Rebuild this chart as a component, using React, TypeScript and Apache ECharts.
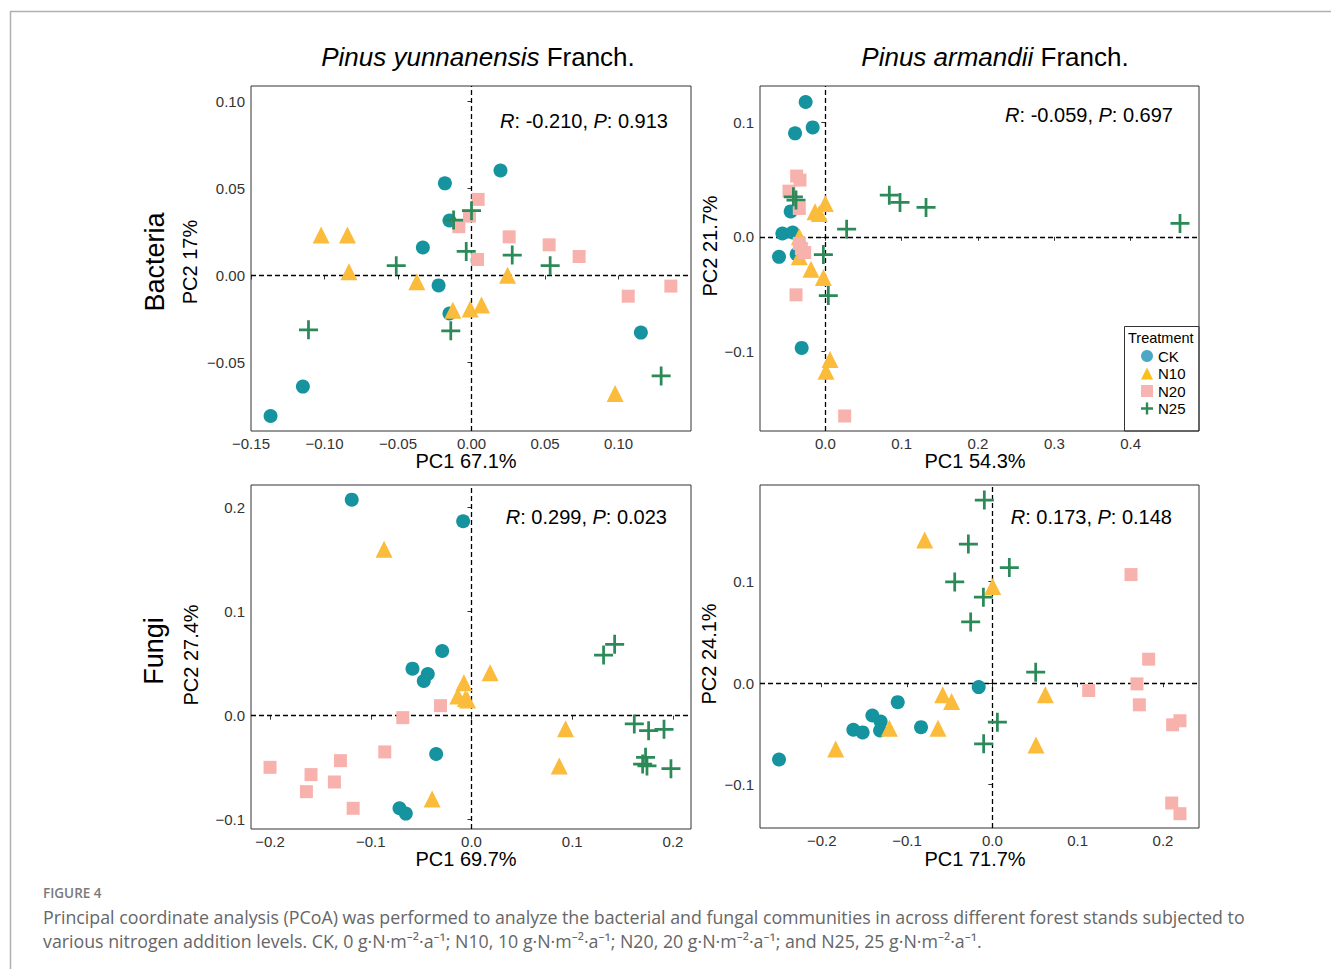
import React, { useEffect, useRef } from "react";
import * as echarts from "echarts";

// ---------- DATA ----------
const GROUPS = ["CK", "N10", "N20", "N25"];

// Bacteria – Pinus yunnanensis
const PY_BAC_CK = [[-0.0181, 0.0529], [0.0197, 0.0603], [-0.015, 0.0316], [-0.0331, 0.0161], [-0.0224, -0.0057], [-0.015, -0.0218], [0.1152, -0.0328], [-0.1147, -0.0638], [-0.1367, -0.0807]];
const PY_BAC_N10 = [[-0.1023, 0.0232], [-0.0844, 0.0232], [-0.0834, 0.0021], [-0.0372, -0.0036], [-0.0127, -0.0199], [-0.0009, -0.0193], [0.0068, -0.017], [0.0245, 0.0002], [0.0977, -0.0678]];
const PY_BAC_N20 = [[0.0045, 0.0437], [-0.0014, 0.0341], [-0.0086, 0.028], [0.0256, 0.0222], [0.0528, 0.0176], [0.0041, 0.0092], [0.0732, 0.0109], [0.1066, -0.0119], [0.1356, -0.0061]];
const PY_BAC_N25 = [[-0.0122, 0.0318], [0.0, 0.0372], [-0.0036, 0.0138], [0.0277, 0.0117], [-0.0512, 0.0056], [0.0535, 0.0056], [-0.1109, -0.0312], [-0.0141, -0.0318], [0.129, -0.0577]];

// Bacteria – Pinus armandii
const PA_BAC_CK = [[-0.0258, 0.1178], [-0.0166, 0.0956], [-0.0397, 0.0904], [-0.0454, 0.0222], [-0.0563, 0.0029], [-0.0428, 0.0038], [-0.0607, -0.0175], [-0.0376, -0.0152], [-0.031, -0.0971]];
const PA_BAC_N10 = [[0.0, 0.0292], [-0.0135, 0.0219], [-0.0079, 0.0204], [-0.0341, 0.0], [-0.0341, -0.0175], [-0.0188, -0.0283], [-0.0026, -0.0356], [0.0061, -0.1073], [0.0009, -0.1175]];
const PA_BAC_N20 = [[-0.0376, 0.0531], [-0.0332, 0.0496], [-0.0476, 0.0399], [-0.0341, 0.0248], [-0.0341, -0.0058], [-0.0314, -0.0102], [-0.0271, -0.0137], [-0.0384, -0.0507], [0.0253, -0.1566]];
const PA_BAC_N25 = [[-0.0419, 0.035], [-0.0384, 0.0321], [0.0838, 0.0364], [0.0978, 0.03], [0.1319, 0.0257], [0.0279, 0.0067], [-0.0026, -0.0155], [0.0039, -0.0513], [0.4646, 0.0117]];

// Fungi – Pinus yunnanensis
const PY_FUN_CK = [[-0.1189, 0.2077], [-0.0083, 0.1869], [-0.0291, 0.0622], [-0.0586, 0.0452], [-0.0434, 0.0401], [-0.0474, 0.0333], [-0.0351, -0.0369], [-0.0715, -0.0891], [-0.0652, -0.0942]];
const PY_FUN_N10 = [[-0.0868, 0.1599], [0.0185, 0.0413], [-0.0076, 0.0317], [-0.0136, 0.0189], [-0.004, 0.0151], [-0.006, 0.0165], [0.0934, -0.0125], [0.0871, -0.0484], [-0.0391, -0.0801]];
const PY_FUN_N20 = [[-0.0308, 0.0096], [-0.0682, -0.0019], [-0.0861, -0.0349], [-0.1301, -0.0433], [-0.2, -0.0497], [-0.1593, -0.0567], [-0.1361, -0.0638], [-0.1639, -0.0731], [-0.1175, -0.0891]];
const PY_FUN_N25 = [[0.1421, 0.0686], [0.1311, 0.0583], [0.1616, -0.008], [0.1758, -0.0144], [0.1911, -0.0131], [0.1728, -0.0401], [0.1699, -0.0465], [0.1742, -0.0484], [0.198, -0.051]];

// Fungi – Pinus armandii
const PA_FUN_CK = [[-0.25, -0.0751], [-0.1629, -0.0459], [-0.152, -0.0485], [-0.1406, -0.0318], [-0.1309, -0.0377], [-0.1316, -0.0466], [-0.1109, -0.0187], [-0.0836, -0.0433], [-0.016, -0.0039]];
const PA_FUN_N10 = [[-0.0793, 0.141], [0.0004, 0.0951], [-0.0582, -0.0115], [-0.0477, -0.018], [0.0621, -0.0115], [-0.1207, -0.0443], [-0.0637, -0.0443], [-0.1836, -0.0649], [0.0512, -0.061]];
const PA_FUN_N20 = [[0.1625, 0.1069], [0.1832, 0.0236], [0.1695, -0.0007], [0.1129, -0.0072], [0.1723, -0.0213], [0.2113, -0.041], [0.2199, -0.037], [0.2102, -0.118], [0.2199, -0.1285]];
const PA_FUN_N25 = [[-0.0094, 0.1803], [-0.0281, 0.137], [0.0199, 0.1138], [-0.0441, 0.0997], [-0.0105, 0.0846], [-0.0254, 0.0603], [0.0508, 0.0108], [0.0059, -0.0384], [-0.0102, -0.0597]];

// Tick values
const P1_XTICKS = [-0.15, -0.1, -0.05, 0, 0.05, 0.1];
const P1_YTICKS = [-0.05, 0, 0.05, 0.1];
const P2_XTICKS = [0, 0.1, 0.2, 0.3, 0.4];
const P2_YTICKS = [-0.1, 0, 0.1];
const P3_XTICKS = [-0.2, -0.1, 0, 0.1, 0.2];
const P3_YTICKS = [-0.1, 0, 0.1, 0.2];
const P4_XTICKS = [-0.2, -0.1, 0, 0.1, 0.2];
const P4_YTICKS = [-0.1, 0, 0.1];

// Statistics texts
const STATS = [
  ["-0.210", "0.913"],
  ["-0.059", "0.697"],
  ["0.299", "0.023"],
  ["0.173", "0.148"],
];
const X_NAMES = ["PC1 67.1%", "PC1 54.3%", "PC1 69.7%", "PC1 71.7%"];
const Y_NAMES = ["PC2 17%", "PC2 21.7%", "PC2 27.4%", "PC2 24.1%"];

// ---------- STYLE ----------
const FONT = "'Liberation Sans', Arial, Helvetica, sans-serif";
const CAP_FONT = "'Open Sans', 'Noto Sans', sans-serif";
const COLORS = ["#15939e", "#fbbb3b", "#f8b2ad", "#2b8a57"];
const LEGEND_COLORS = ["#4aa8c6", "#fdbe1c", "#f7b5b2", "#2b8a57"];
const CROSS = "path://M-1.3,-9H1.3V-1.3H9V1.3H1.3V9H-1.3V1.3H-9V-1.3H-1.3Z";
const LEGEND_CROSS = "path://M-1.8,-9H1.8V-1.8H9V1.8H1.8V9H-1.8V1.8H-9V-1.8H-1.8Z";
const SYMBOLS = ["circle", "triangle", "rect", CROSS];
const LEGEND_SYMBOLS = ["circle", "triangle", "rect", LEGEND_CROSS];
const SIZES = [14, 17, 13, 19];

const PANELS = [
  { grid: { left: 251, top: 86, width: 440, height: 345 }, x: [-0.15, 0.1493], y: [-0.0893, 0.1088], xt: P1_XTICKS, yt: P1_YTICKS, d: 2, data: [PY_BAC_CK, PY_BAC_N10, PY_BAC_N20, PY_BAC_N25], stat: [668, 121], xn: [466, 461], yn: [190, 262] },
  { grid: { left: 760, top: 86, width: 439, height: 345 }, x: [-0.0856, 0.4895], y: [-0.1697, 0.1318], xt: P2_XTICKS, yt: P2_YTICKS, d: 1, data: [PA_BAC_CK, PA_BAC_N10, PA_BAC_N20, PA_BAC_N25], stat: [1173, 115], xn: [975, 461], yn: [710, 246] },
  { grid: { left: 251, top: 485, width: 440, height: 344 }, x: [-0.2189, 0.2179], y: [-0.109, 0.2218], xt: P3_XTICKS, yt: P3_YTICKS, d: 1, data: [PY_FUN_CK, PY_FUN_N10, PY_FUN_N20, PY_FUN_N25], stat: [667, 517], xn: [466, 859], yn: [191, 655] },
  { grid: { left: 760, top: 485, width: 439, height: 343 }, x: [-0.2723, 0.2422], y: [-0.1426, 0.1951], xt: P4_XTICKS, yt: P4_YTICKS, d: 1, data: [PA_FUN_CK, PA_FUN_N10, PA_FUN_N20, PA_FUN_N25], stat: [1172, 517], xn: [975, 859], yn: [709, 654] },
];

const fmt = (d: number) => (v: number) => {
  const s = Math.abs(v).toFixed(d);
  return (v < -1e-9 ? "\u2212" : "") + s;
};

function buildOption() {
  const grid: any[] = [];
  const xAxis: any[] = [];
  const yAxis: any[] = [];
  const series: any[] = [];
  const graphic: any[] = [];

  PANELS.forEach((p, i) => {
    grid.push({ ...p.grid, show: true, borderColor: "#333", borderWidth: 1, containLabel: false });
    const axisCommon = {
      splitLine: { show: false },
      axisLine: { show: false },
      axisTick: { show: true, inside: false, length: 4, lineStyle: { color: "#333", width: 1 } },
    };
    xAxis.push({
      type: "value", gridIndex: i, min: p.x[0], max: p.x[1], ...axisCommon,
      axisTick: { ...axisCommon.axisTick, customValues: p.xt },
      axisLabel: { customValues: p.xt, formatter: fmt(p.d), color: "#333", fontSize: 15, fontFamily: FONT, margin: 5 },
    });
    yAxis.push({
      type: "value", gridIndex: i, min: p.y[0], max: p.y[1], ...axisCommon,
      axisTick: { ...axisCommon.axisTick, customValues: p.yt },
      axisLabel: { customValues: p.yt, formatter: fmt(p.d), color: "#333", fontSize: 15, fontFamily: FONT, margin: 6 },
    });
    p.data.forEach((pts, g) => {
      const s: any = {
        type: "scatter", name: GROUPS[g], xAxisIndex: i, yAxisIndex: i,
        data: pts, symbol: SYMBOLS[g], symbolSize: SIZES[g],
        itemStyle: { color: COLORS[g], opacity: 1 },
        z: 3,
      };
      if (g === 0) {
        s.markLine = {
          silent: true, symbol: ["none", "none"], label: { show: false },
          lineStyle: { color: "#000", type: [5, 3], width: 1.3 },
          data: [{ xAxis: 0 }, { yAxis: 0 }],
          z: 1,
        };
      }
      series.push(s);
    });
    // stats text
    graphic.push({
      type: "text", x: p.stat[0], y: p.stat[1],
      style: {
        text: `{i|R}{n|: ${STATS[i][0]}, }{i|P}{n|: ${STATS[i][1]}}`,
        align: "right", verticalAlign: "middle",
        rich: {
          i: { fontStyle: "italic", fontSize: 20, fontFamily: FONT, fill: "#000" },
          n: { fontSize: 20, fontFamily: FONT, fill: "#000" },
        },
      },
    });
    graphic.push({
      type: "text", x: p.xn[0], y: p.xn[1],
      style: { text: X_NAMES[i], align: "center", verticalAlign: "middle", fontSize: 20, fontFamily: FONT, fill: "#000" },
    });
    graphic.push({
      type: "text", x: p.yn[0], y: p.yn[1], rotation: Math.PI / 2,
      style: { text: Y_NAMES[i], align: "center", verticalAlign: "middle", fontSize: 20, fontFamily: FONT, fill: "#000" },
    });
  });

  // Column titles
  graphic.push({
    type: "text", x: 478, y: 57,
    style: {
      text: "{i|Pinus yunnanensis}{n| Franch.}", align: "center", verticalAlign: "middle",
      rich: { i: { fontStyle: "italic", fontSize: 26, fontFamily: FONT, fill: "#000" }, n: { fontSize: 26, fontFamily: FONT, fill: "#000" } },
    },
  });
  graphic.push({
    type: "text", x: 995, y: 57,
    style: {
      text: "{i|Pinus armandii}{n| Franch.}", align: "center", verticalAlign: "middle",
      rich: { i: { fontStyle: "italic", fontSize: 26, fontFamily: FONT, fill: "#000" }, n: { fontSize: 26, fontFamily: FONT, fill: "#000" } },
    },
  });
  // Row labels
  graphic.push({
    type: "text", x: 155, y: 262, rotation: Math.PI / 2,
    style: { text: "Bacteria", align: "center", verticalAlign: "middle", fontSize: 27, fontFamily: FONT, fill: "#000" },
  });
  graphic.push({
    type: "text", x: 154, y: 651, rotation: Math.PI / 2,
    style: { text: "Fungi", align: "center", verticalAlign: "middle", fontSize: 27, fontFamily: FONT, fill: "#000" },
  });
  // Legend box + title
  graphic.push({
    type: "rect", shape: { x: 1124.5, y: 326.5, width: 74.5, height: 104.5 },
    style: { fill: "none", stroke: "#333", lineWidth: 1 },
  });
  graphic.push({
    type: "text", x: 1128, y: 338,
    style: { text: "Treatment", align: "left", verticalAlign: "middle", fontSize: 14.5, fontFamily: FONT, fill: "#000" },
  });
  // Page frame
  graphic.push({ type: "line", shape: { x1: 10, y1: 11.5, x2: 1331, y2: 11.5 }, style: { stroke: "#b0b0b0", lineWidth: 1.5 } });
  graphic.push({ type: "line", shape: { x1: 10.5, y1: 11, x2: 10.5, y2: 969 }, style: { stroke: "#b0b0b0", lineWidth: 1.5 } });
  // Caption
  graphic.push({
    type: "text", x: 43, y: 893,
    style: { text: "FIGURE 4", align: "left", verticalAlign: "middle", fontSize: 13.5, fontWeight: 600, fontFamily: CAP_FONT, fill: "#7a7a7a" },
  });
  graphic.push({
    type: "text", x: 43, y: 917,
    style: {
      text: "Principal coordinate analysis (PCoA) was performed to analyze the bacterial and fungal communities in across different forest stands subjected to",
      align: "left", verticalAlign: "middle", fontSize: 17.8, fontFamily: CAP_FONT, fill: "#666",
    },
  });
  graphic.push({
    type: "text", x: 43, y: 941,
    style: {
      text: "various nitrogen addition levels. CK, 0 g\u00b7N\u00b7m\u207b\u00b2\u00b7a\u207b\u00b9; N10, 10 g\u00b7N\u00b7m\u207b\u00b2\u00b7a\u207b\u00b9; N20, 20 g\u00b7N\u00b7m\u207b\u00b2\u00b7a\u207b\u00b9; and N25, 25 g\u00b7N\u00b7m\u207b\u00b2\u00b7a\u207b\u00b9.",
      align: "left", verticalAlign: "middle", fontSize: 17.8, fontFamily: CAP_FONT, fill: "#666",
    },
  });

  return {
    animation: false,
    backgroundColor: "#fff",
    grid, xAxis, yAxis, series,
    legend: {
      orient: "vertical", left: 1136, top: 343.5, padding: 5, itemWidth: 12, itemHeight: 12, itemGap: 2.5,
      selectedMode: false,
      textStyle: { fontSize: 15, fontFamily: FONT, color: "#000" },
      data: GROUPS.map((g, k) => ({ name: g, icon: LEGEND_SYMBOLS[k], itemStyle: { color: LEGEND_COLORS[k] } })),
    },
    graphic,
  };
}

export default function App() {
  const ref = useRef<HTMLDivElement>(null);
  useEffect(() => {
    if (!ref.current) return;
    const chart = echarts.init(ref.current, undefined, { renderer: "svg" });
    chart.setOption(buildOption() as any);
    return () => chart.dispose();
  }, []);
  return <div ref={ref} style={{ position: "fixed", left: 0, top: 0, width: 1331, height: 969, background: "#fff" }} />;
}
